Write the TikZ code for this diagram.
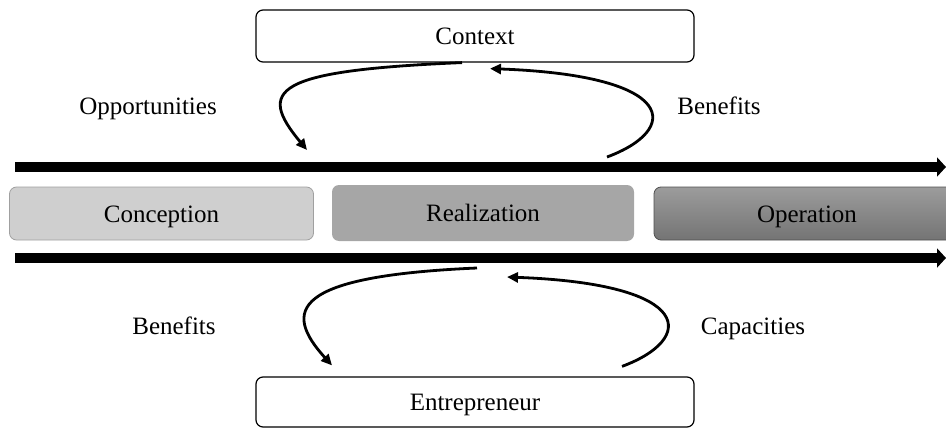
\documentclass[tikz,border=0pt]{standalone}
\usepackage{fontspec}
\setmainfont{Liberation Serif}
\usepackage{tikz}
\usetikzlibrary{calc,arrows.meta}
\definecolor{light}{HTML}{CFCFCF}
\definecolor{lightedge}{HTML}{A0A0A0}
\definecolor{mid}{HTML}{A6A6A6}
\definecolor{darktop}{HTML}{9C9C9C}
\definecolor{darkbot}{HTML}{747474}
\definecolor{darkedge}{HTML}{505050}

\begin{document}
\begin{tikzpicture}[x=1pt,y=1pt,
  every node/.style={font=\fontsize{25}{30}\selectfont, text height=17pt, text depth=0pt},
  box/.style={draw, line width=1.2pt, rounded corners=7pt, minimum width=438pt, minimum height=52pt},
  phase/.style={rounded corners=7pt, minimum width=304pt, minimum height=53pt},
  timeline/.style={line width=9.5pt, -{Triangle[length=9pt,width=19pt]}},
  flow/.style={line width=2.8pt, -{Triangle[length=11pt,width=10pt]}}]
\useasboundingbox (0,0) rectangle (946,-428);
\node[box] (context) at (475,-36) {Context};
\node[box, minimum height=50pt] (entre) at (475,-402) {Entrepreneur};
% phases between the two time lines
\node[phase, draw=lightedge, fill=light, line width=0.8pt] (conc) at (161.5,-213.5) {Conception};
\node[phase, fill=mid, minimum width=302pt, minimum height=56pt] (real) at (483,-213) {Realization};
\node[phase, draw=darkedge, top color=darktop, bottom color=darkbot, line width=0.8pt, minimum width=306pt] (oper) at (807,-213.5) {Operation};
\coordinate (topS) at (15,-167);
\coordinate (topE) at (946,-167);
\coordinate (botS) at (15,-258);
\coordinate (botE) at (946,-258);
\draw[timeline] (topS) -- (topE);
\draw[timeline] (botS) -- (botE);
\node (opp) at (148,-106) {Opportunities};
\node (benTop) at (719,-106) {Benefits};
\node (benBot) at (174,-326) {Benefits};
\node (cap) at (753,-326) {Capacities};
% loops with the context
\coordinate (oppEnd) at (307,-150);
\coordinate (benTopS) at (607,-157);
\draw[flow] ([xshift=-13pt]context.south) .. controls +(-190,-8) and +(-50,60) .. (oppEnd);
\draw[flow] (benTopS) .. controls +(73,27) and +(190,-7) .. ([xshift=15pt,yshift=-6pt]context.south);
% loops with the entrepreneur
\coordinate (benBotS) at (477,-268);
\coordinate (capEnd) at (507,-277);
\draw[flow] (benBotS) .. controls +(-185,-8) and +(-50,55) .. ([xshift=-143pt,yshift=11pt]entre.north);
\draw[flow] ([xshift=147pt,yshift=10pt]entre.north) .. controls +(73,27) and +(190,-7) .. (capEnd);
\end{tikzpicture}
\end{document}
